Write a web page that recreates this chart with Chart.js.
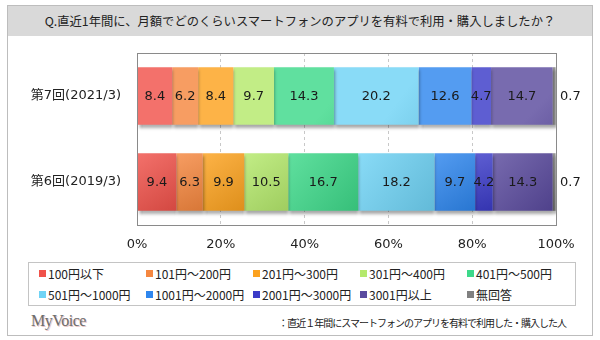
<!DOCTYPE html>
<html>
<head>
<meta charset="utf-8">
<script src="https://cdn.jsdelivr.net/npm/chart.js@4"></script>
<style>
  body { margin: 0; background: #fff; font-family: "DejaVu Sans", "Noto Sans CJK JP", sans-serif; }
  #wrap { position: relative; width: 600px; height: 340px; overflow: hidden; }
  #frame { position: absolute; left: 7px; top: 5px; width: 584px; height: 329px; border: 1px solid #bdbdbd; }
  #title { position: absolute; left: 8px; top: 6px; width: 584px; height: 30px; background: #d9d9d9;
           font: 12.3px "Noto Sans CJK JP", sans-serif; color: #222; text-align: center; line-height: 30px; }
  #chartBox { position: absolute; left: 0; top: 0; width: 600px; height: 260px; }
  #legend { position: absolute; left: 28px; top: 262px; width: 536px; height: 42px; border: 1px solid #c4c4c4;
            display: grid; grid-template-columns: repeat(5, 107px); padding-left: 10px; box-sizing: content-box;
            font: 12px "Noto Sans CJK JP", sans-serif; color: #222; }
  #legend div { display: flex; align-items: center; height: 21px; white-space: nowrap; }
  #legend span.sw { display: inline-block; width: 7px; height: 7px; margin-right: 2px; }
  #logo { position: absolute; left: 31px; top: 312px; font: 16px "Liberation Serif", serif; color: #6d6d6d;
          letter-spacing: -0.5px; text-shadow: 1px 1px 0 #e9c7c7; }
  #note { position: absolute; right: 34px; top: 315px; font: 10px "Noto Sans CJK JP", sans-serif; color: #222;
          letter-spacing: -1px; }
</style>
</head>
<body>
<div id="wrap">
  <div id="frame"></div>
  <div id="title">Q.直近1年間に、月額でどのくらいスマートフォンのアプリを有料で利用・購入しましたか？</div>
  <div id="chartBox"><canvas id="chart" width="600" height="260"></canvas></div>
  <div id="legend"></div>
  <div id="logo">MyVoice</div>
  <div id="note">：直近１年間にスマートフォンのアプリを有料で利用した・購入した人</div>
</div>
<script>
const categories = ['第7回(2021/3)', '第6回(2019/3)'];
const seriesNames = ['100円以下', '101円～200円', '201円～300円', '301円～400円', '401円～500円',
                     '501円～1000円', '1001円～2000円', '2001円～3000円', '3001円以上', '無回答'];
const round7 = [8.4, 6.2, 8.4, 9.7, 14.3, 20.2, 12.6, 4.7, 14.7, 0.7];
const round6 = [9.4, 6.3, 9.9, 10.5, 16.7, 18.2, 9.7, 4.2, 14.3, 0.7];
const seriesColors = ['#f0524a', '#f5873f', '#fca21f', '#b5e96c', '#3dd98a',
                      '#6fd3f5', '#2e86ee', '#3b3bc8', '#5a4a9e', '#808080'];
const xTicks = [0, 20, 40, 60, 80, 100];

function mix(hex, target, amt) {
  const n = parseInt(hex.slice(1), 16);
  const r = (n >> 16) & 255, g = (n >> 8) & 255, b = n & 255;
  const m = c => Math.round(c + (target - c) * amt);
  return `rgb(${m(r)},${m(g)},${m(b)})`;
}

// グラデーションと影
const barStyle = {
  id: 'barStyle',
  beforeDatasetsDraw(chart) {
    chart.data.datasets.forEach((ds, i) => {
      const meta = chart.getDatasetMeta(i);
      meta.data.forEach(el => {
        const left = Math.min(el.x, el.base), right = Math.max(el.x, el.base);
        const g = chart.ctx.createLinearGradient(left, el.y - el.height / 2, right, el.y + el.height / 2);
        g.addColorStop(0, mix(seriesColors[i], 255, 0.18));
        g.addColorStop(1, mix(seriesColors[i], 0, 0.12));
        el.options.backgroundColor = g;
      });
    });
  },
  beforeDatasetDraw(chart) {
    const ctx = chart.ctx;
    ctx.save();
    ctx.shadowColor = 'rgba(0,0,0,0.35)';
    ctx.shadowOffsetX = 1;
    ctx.shadowOffsetY = 3;
    ctx.shadowBlur = 3;
  },
  afterDatasetDraw(chart) {
    chart.ctx.restore();
  }
};

// 枠と数値ラベル
const frameAndLabels = {
  id: 'frameAndLabels',
  afterDatasetsDraw(chart) {
    const ctx = chart.ctx;
    const a = chart.chartArea;
    ctx.save();
    ctx.strokeStyle = '#8a8a8a';
    ctx.lineWidth = 1;
    ctx.strokeRect(Math.round(a.left) + 0.5, Math.round(a.top) + 0.5, Math.round(a.right - a.left), Math.round(a.bottom - a.top));
    ctx.font = '13px "DejaVu Sans", sans-serif';
    ctx.fillStyle = '#1a1a1a';
    ctx.textBaseline = 'middle';
    chart.data.datasets.forEach((ds, i) => {
      const meta = chart.getDatasetMeta(i);
      meta.data.forEach((el, j) => {
        const v = ds.data[j].toFixed(1);
        if (i === chart.data.datasets.length - 1) {
          ctx.textAlign = 'left';
          ctx.fillText(v, a.right + 4, el.y + 1);
        } else {
          ctx.textAlign = 'center';
          ctx.fillText(v, (el.x + el.base) / 2, el.y + 1);
        }
      });
    });
    ctx.restore();
  }
};

const chart = new Chart(document.getElementById('chart'), {
  type: 'bar',
  data: {
    labels: categories,
    datasets: seriesNames.map((name, i) => ({
      label: name,
      data: [round7[i], round6[i]],
      backgroundColor: seriesColors[i],
      borderWidth: 0,
      barPercentage: 0.67,
      categoryPercentage: 1
    }))
  },
  options: {
    indexAxis: 'y',
    responsive: false,
    animation: false,
    layout: { padding: { top: 53, right: 44, left: 0, bottom: 0 } },
    plugins: { legend: { display: false }, tooltip: { enabled: false } },
    scales: {
      x: {
        stacked: true,
        min: 0,
        max: 100,
        afterBuildTicks: scale => { scale.ticks = xTicks.map(v => ({ value: v })); },
        afterFit: scale => { scale.height = 35; },
        ticks: {
          padding: 12,
          color: '#222',
          font: { size: 13, family: '"DejaVu Sans", sans-serif' },
          callback: v => v + '%'
        },
        grid: { color: '#c8c8c8', drawTicks: false },
        border: { display: false, dash: [3, 3] }
      },
      y: {
        stacked: true,
        afterFit: scale => { scale.width = 137; },
        ticks: {
          padding: 8,
          color: '#222',
          font: { size: 13, family: '"DejaVu Sans", "Noto Sans CJK JP", sans-serif' }
        },
        grid: { display: false },
        border: { display: false }
      }
    }
  },
  plugins: [barStyle, frameAndLabels]
});

// 凡例
const legendDiv = document.getElementById('legend');
chart.data.datasets.forEach((ds, i) => {
  const item = document.createElement('div');
  item.innerHTML = `<span class="sw" style="background:${seriesColors[i]}"></span>${ds.label}`;
  legendDiv.appendChild(item);
});
</script>
</body>
</html>
